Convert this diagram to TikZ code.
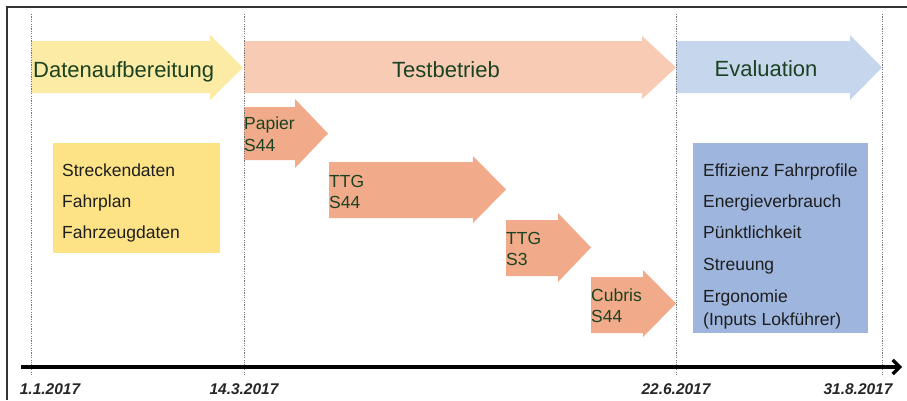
\documentclass[tikz,border=0pt]{standalone}
\usepackage{fontspec}
\setmainfont{Liberation Sans}
\usetikzlibrary{arrows.meta}
\definecolor{yelArrow}{HTML}{FCEBA4}
\definecolor{pinkArrow}{HTML}{F7CBB4}
\definecolor{blueArrow}{HTML}{C6D6EC}
\definecolor{salmon}{HTML}{F1AB8A}
\definecolor{yelBox}{HTML}{FDE385}
\definecolor{blueBox}{HTML}{9EB5DD}
\definecolor{darkgreen}{HTML}{1B4222}
\definecolor{boxtext}{HTML}{1E1E1E}
\newcommand{\blockarrow}[8]{%
  \fill[#1] (#2,#5) -- (#3,#5) -- (#3,#7) -- (#4,{(#7+#8)/2}) -- (#3,#8) -- (#3,#6) -- (#2,#6) -- cycle;}
\tikzset{
  biglabel/.style={font=\fontsize{22}{26}\selectfont, text=darkgreen, inner sep=0pt, anchor=base west},
  smalllabel/.style={font=\fontsize{17.5}{21}\selectfont, text=darkgreen, inner sep=0pt, anchor=base west},
  boxline/.style={font=\fontsize{17.5}{21}\selectfont, text=boxtext, inner sep=0pt, anchor=base west},
  datelabel/.style={font=\fontsize{15.5}{18}\selectfont\bfseries\itshape, text=black!85, inner sep=0pt, anchor=base},
  vline/.style={draw=black!55, line width=0.8pt, dash pattern=on 1.2pt off 1.2pt},
}
\begin{document}
\begin{tikzpicture}[x=1pt,y=-1pt]
\useasboundingbox (0,0) rectangle (907,400);
\clip (0,0) rectangle (907,400);
\fill[white] (0,0) rectangle (907,400);
% frame
\draw[black!80, line width=1.5pt] (7,400) -- (7,7) -- (910,7);
% big arrows
\blockarrow{yelArrow}{31}{210}{243}{41}{93}{35}{100}
\blockarrow{pinkArrow}{244}{642}{676}{41}{93}{36}{99}
\blockarrow{blueArrow}{676}{850}{882}{41}{93}{35}{100}
% small arrows
\blockarrow{salmon}{244}{295}{328}{107}{160}{99}{168}
\blockarrow{salmon}{329}{473}{506}{162}{218}{156}{223}
\blockarrow{salmon}{506}{558}{591}{220}{276}{213}{282}
\blockarrow{salmon}{591}{643}{676}{277}{333}{270}{337}
% boxes
\fill[yelBox] (53,143) rectangle (220,253);
\fill[blueBox] (693,143) rectangle (868,333);
% dotted verticals
\coordinate (v1t) at (31,14);  \coordinate (v1b) at (31,376);
\coordinate (v2t) at (244,14); \coordinate (v2b) at (244,376);
\coordinate (v3t) at (676,14); \coordinate (v3b) at (676,376);
\coordinate (v4t) at (882,14); \coordinate (v4b) at (882,376);
\draw[vline] (v1t) -- (v1b);
\draw[vline] (v2t) -- (v2b);
\draw[vline] (v3t) -- (v3b);
\draw[vline] (v4t) -- (v4b);
% axis
\coordinate (ax0) at (21,367);
\coordinate (ax1) at (902,367);
\draw[line width=3.3pt, -{Straight Barb[length=7pt,width=14pt]}] (ax0) -- (ax1);
% big labels
\node[biglabel] (lDaten) at (33,77) {Datenaufbereitung};
\node[biglabel, anchor=base] (lTest) at (446,77) {Testbetrieb};
\node[biglabel, anchor=base] (lEval) at (766,76) {Evaluation};
% small arrow labels
\node[smalllabel] (pap1) at (244,129) {Papier};
\node[smalllabel] (pap2) at (244,151) {S44};
\node[smalllabel] (ttg1) at (329,187) {TTG};
\node[smalllabel] (ttg2) at (329,208) {S44};
\node[smalllabel] (tts1) at (506,244) {TTG};
\node[smalllabel] (tts2) at (506,265) {S3};
\node[smalllabel] (cub1) at (591,301) {Cubris};
\node[smalllabel] (cub2) at (591,322) {S44};
% yellow box text
\node[boxline] (y1) at (62,176) {Streckendaten};
\node[boxline] (y2) at (62,207) {Fahrplan};
\node[boxline] (y3) at (62,238) {Fahrzeugdaten};
% blue box text
\node[boxline] (b1) at (703,176) {Effizienz Fahrprofile};
\node[boxline] (b2) at (703,207) {Energieverbrauch};
\node[boxline] (b3) at (703,238) {Pünktlichkeit};
\node[boxline] (b4) at (703,270) {Streuung};
\node[boxline] (b5) at (703,302) {Ergonomie};
\node[boxline] (b6) at (703,325) {(Inputs Lokführer)};
% dates
\node[datelabel] (d1) at (50,394) {1.1.2017};
\node[datelabel] (d2) at (244,394) {14.3.2017};
\node[datelabel] (d3) at (676,394) {22.6.2017};
\node[datelabel] (d4) at (858,394) {31.8.2017};
\end{tikzpicture}
\end{document}
